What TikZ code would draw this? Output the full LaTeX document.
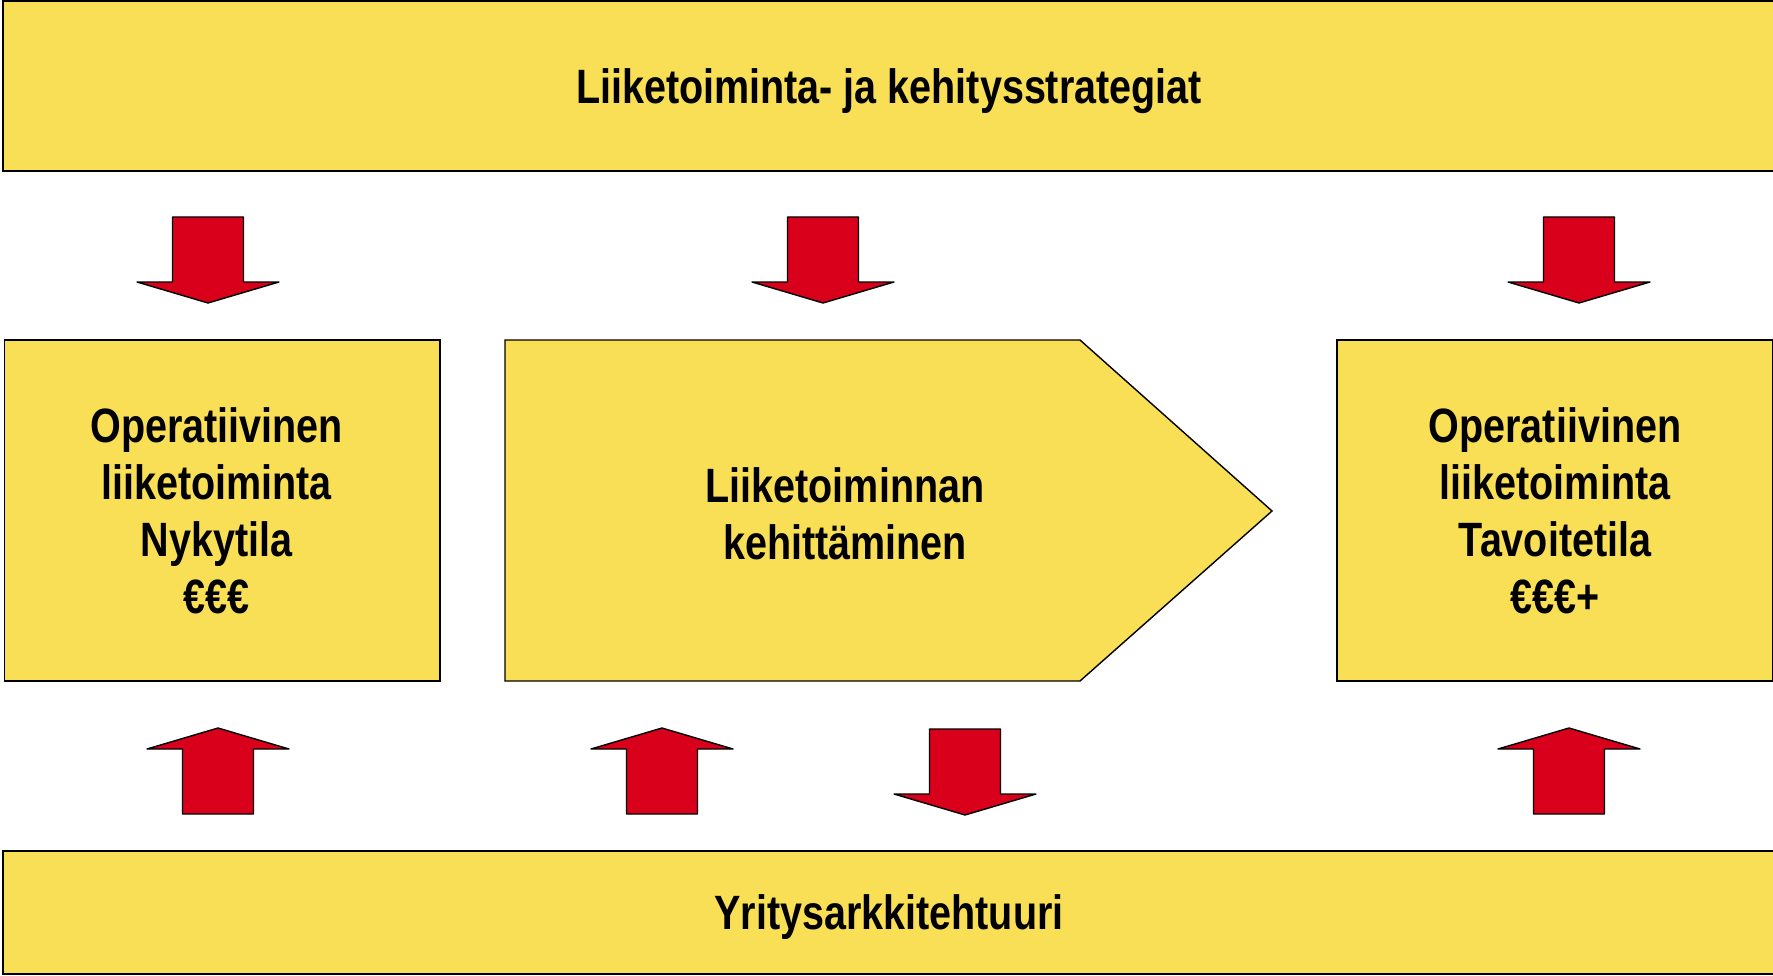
\documentclass[tikz,border=0pt]{standalone}
\usepackage{fontspec}
\setmainfont[FakeStretch=0.82]{Liberation Sans}

\definecolor{boxyellow}{RGB}{249,223,85}
\definecolor{arrowred}{RGB}{216,0,26}

\begin{document}
\begin{tikzpicture}[x=0.01cm,y=-0.01cm,
  panel/.style={draw=black,fill=boxyellow,line width=0.4pt},
  boxtext/.style={font=\bfseries\fontsize{13.7}{16.2}\selectfont,align=center,inner sep=0pt},
  blockarrow/.style={draw=black,fill=arrowred,line width=0.4pt,line join=round}]

\useasboundingbox (0,0) rectangle (1773,976);

\begin{scope} % yellow panels
  \draw[panel] (3,1) rectangle (1776,171);
  \draw[panel] (3,851) rectangle (1776,974);
  \draw[panel] (4.5,340) rectangle (440,681);
  \draw[panel] (1337,340) rectangle (1773,681);
  \draw[panel] (505,340) -- (1080,340) -- (1272,511) -- (1080,681) -- (505,681) -- cycle;
\end{scope}

% panel texts
\node[boxtext] (strategy) at (889,91.5) {Liiketoiminta- ja kehitysstrategiat};
\node[boxtext] (arch) at (889,917) {Yritysarkkitehtuuri};
\node[boxtext] (current) at (216.5,510.5) {Operatiivinen\\liiketoiminta\\Nykytila\\€€€};
\node[boxtext] (target) at (1555,510.5) {Operatiivinen\\liiketoiminta\\Tavoitetila\\€€€+};
\node[boxtext] (dev) at (845,514) {Liiketoiminnan\\kehittäminen};

\begin{scope} % red block arrows
  \foreach \x/\y in {208/217,823/217,1579/217,965/729} {
    \draw[blockarrow] (\x-35.5,\y) -- (\x+35.5,\y) -- (\x+35.5,\y+65) -- (\x+71,\y+65)
      -- (\x,\y+86) -- (\x-71,\y+65) -- (\x-35.5,\y+65) -- cycle;
  }
  \foreach \x/\y in {218/728,662/728,1569/728} {
    \draw[blockarrow] (\x,\y) -- (\x+71,\y+21) -- (\x+35.5,\y+21) -- (\x+35.5,\y+86)
      -- (\x-35.5,\y+86) -- (\x-35.5,\y+21) -- (\x-71,\y+21) -- cycle;
  }
\end{scope}

\end{tikzpicture}
\end{document}
